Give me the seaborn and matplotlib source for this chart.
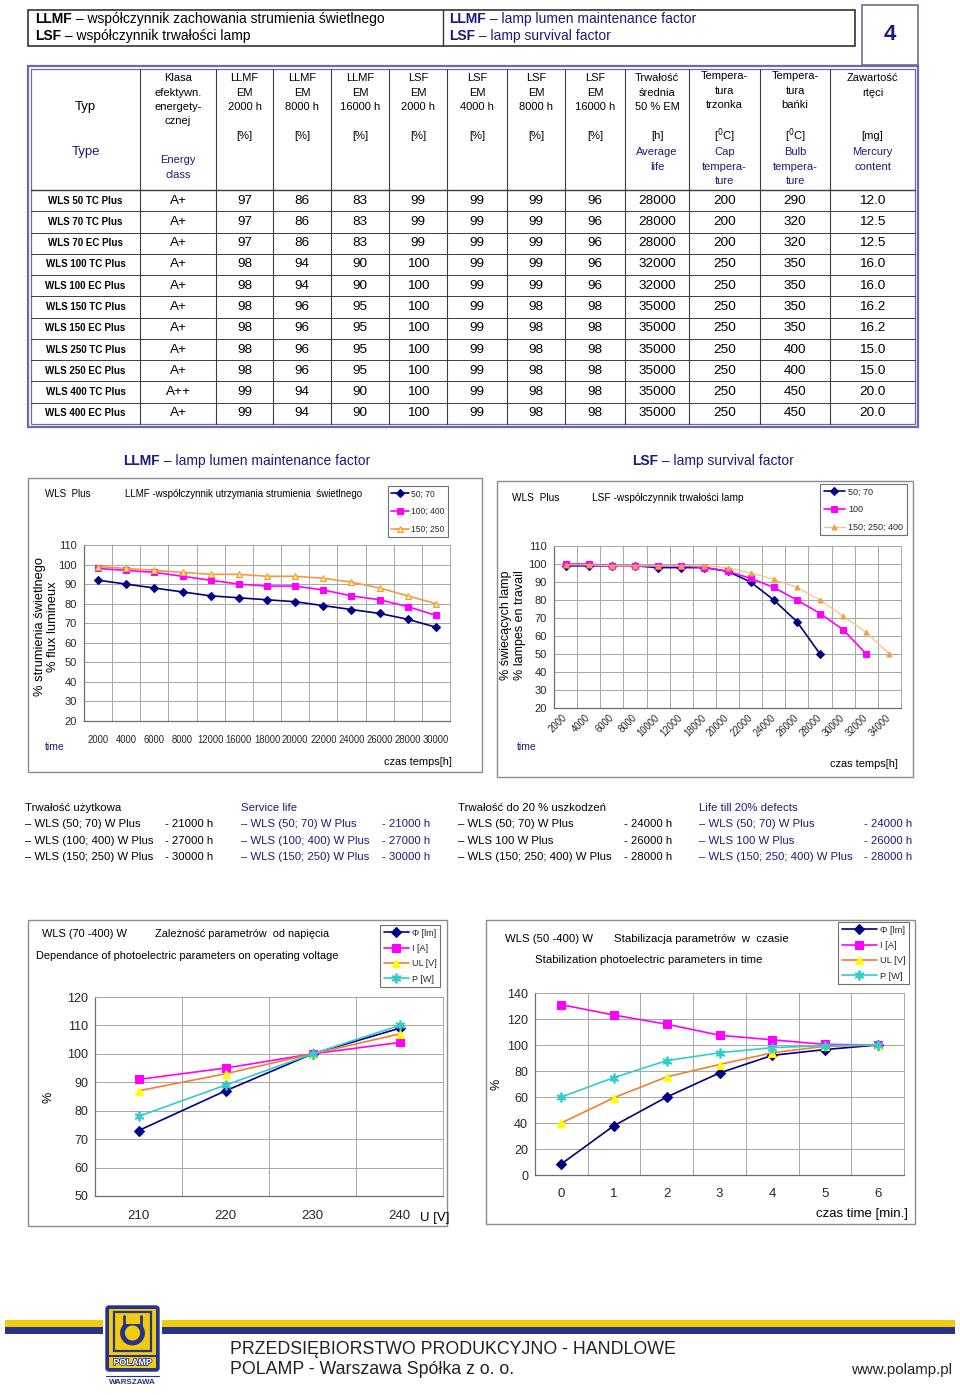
import matplotlib
matplotlib.use("Agg")
import matplotlib.pyplot as plt
from matplotlib import font_manager
from matplotlib.patches import Rectangle, FancyBboxPatch, Circle
import matplotlib.patheffects as pe
import numpy as np
import pandas as pd
import seaborn as sns

# ---------------- table data ----------------
lamp_types = ["WLS 50 TC Plus", "WLS 70 TC Plus", "WLS 70 EC Plus", "WLS 100 TC Plus",
              "WLS 100 EC Plus", "WLS 150 TC Plus", "WLS 150 EC Plus", "WLS 250 TC Plus",
              "WLS 250 EC Plus", "WLS 400 TC Plus", "WLS 400 EC Plus"]
energy_class = ["A+", "A+", "A+", "A+", "A+", "A+", "A+", "A+", "A+", "A++", "A+"]
llmf_2000 = [97, 97, 97, 98, 98, 98, 98, 98, 98, 99, 99]
llmf_8000 = [86, 86, 86, 94, 94, 96, 96, 96, 96, 94, 94]
llmf_16000 = [83, 83, 83, 90, 90, 95, 95, 95, 95, 90, 90]
lsf_2000 = [99, 99, 99, 100, 100, 100, 100, 100, 100, 100, 100]
lsf_4000 = [99, 99, 99, 99, 99, 99, 99, 99, 99, 99, 99]
lsf_8000 = [99, 99, 99, 99, 99, 98, 98, 98, 98, 98, 98]
lsf_16000 = [96, 96, 96, 96, 96, 98, 98, 98, 98, 98, 98]
avg_life = [28000, 28000, 28000, 32000, 32000, 35000, 35000, 35000, 35000, 35000, 35000]
cap_temp = [200, 200, 200, 250, 250, 250, 250, 250, 250, 250, 250]
bulb_temp = [290, 320, 320, 350, 350, 350, 350, 400, 400, 450, 450]
mercury = ["12.0", "12.5", "12.5", "16.0", "16.0", "16.2", "16.2", "15.0", "15.0", "20.0", "20.0"]

head_pl = [["Typ"], ["Klasa", "efektywn.", "energety-", "cznej"],
           ["LLMF", "EM", "2000 h"], ["LLMF", "EM", "8000 h"], ["LLMF", "EM", "16000 h"],
           ["LSF", "EM", "2000 h"], ["LSF", "EM", "4000 h"], ["LSF", "EM", "8000 h"],
           ["LSF", "EM", "16000 h"], ["Trwałość", "średnia", "50 % EM"],
           ["Tempera-", "tura", "trzonka"], ["Tempera-", "tura", "bańki"], ["Zawartość", "rtęci"]]
head_unit = ["", "", "[%]", "[%]", "[%]", "[%]", "[%]", "[%]", "[%]", "[h]",
             "[$^0$C]", "[$^0$C]", "[mg]"]
head_en = [["Type"], ["Energy", "class"], [], [], [], [], [], [], [],
           ["Average", "life"], ["Cap", "tempera-", "ture"], ["Bulb", "tempera-", "ture"],
           ["Mercury", "content"]]

# ---------------- chart 1: LLMF ----------------
llmf_hours = ["2000", "4000", "6000", "8000", "12000", "16000", "18000", "20000",
              "22000", "24000", "26000", "28000", "30000"]
llmf_50_70 = [92, 90, 88, 86, 84, 83, 82, 81, 79, 77, 75, 72, 68]
llmf_100_400 = [98, 97, 96, 94, 92, 90, 89, 89, 87, 84, 82, 78.5, 74]
llmf_150_250 = [99, 98, 97, 96, 95, 95, 94, 94, 93, 91, 88, 84, 80]

# ---------------- chart 2: LSF ----------------
lsf_hours = ["2000", "4000", "6000", "8000", "10000", "12000", "18000", "20000", "22000",
             "24000", "26000", "28000", "30000", "32000", "34000"]
lsf_50_70 = [99, 99, 99, 99, 98, 98, 98, 96, 90, 80, 68, 50]
lsf_100 = [100, 100, 99, 99, 99, 99, 98, 96, 92, 87, 80, 72.5, 63.5, 50]
lsf_150_400 = [99.5, 99.5, 99, 99, 99, 99, 99, 98, 95, 91.5, 87, 80, 71, 62, 50]

# ---------------- chart 3: voltage ----------------
voltage = ["210", "220", "230", "240"]
volt_flux = [73, 87, 100, 109]
volt_current = [91, 95, 100, 104]
volt_lamp_u = [87, 93, 100, 107]
volt_power = [78, 89, 100, 110]

# ---------------- chart 4: stabilisation ----------------
minutes = ["0", "1", "2", "3", "4", "5", "6"]
stab_flux = [8.5, 38, 60, 78.5, 92, 96.5, 100]
stab_current = [131, 123, 116, 107.5, 104, 100.5, 100]
stab_lamp_u = [40, 59.5, 75.5, 85, 94, 99, 100]
stab_power = [60, 75, 88, 94, 98, 99.5, 100]

# ---------------- life texts ----------------
service_models = ["WLS (50; 70) W Plus", "WLS (100; 400) W Plus", "WLS (150; 250) W Plus"]
service_hours = [21000, 27000, 30000]
defect_models = ["WLS (50; 70) W Plus", "WLS 100 W Plus", "WLS (150; 250; 400) W Plus"]
defect_hours = [24000, 26000, 28000]

# ---------------- style ----------------
sns.set_style("white")
plt.rcParams["font.family"] = ["Liberation Sans", "DejaVu Sans"]
names = {f.name for f in font_manager.fontManager.ttflist}
NARROW = "Liberation Sans Narrow" if "Liberation Sans Narrow" in names else "Liberation Sans"
NK = 1.0 if NARROW == "Liberation Sans Narrow" else 0.88

NAVY_TXT = "#1b1b78"
NAVY = "#000080"
MAGENTA = "#FF00FF"
ORANGE = "#F08030"
YELLOW = "#FFFF00"
CYAN = "#33CCCC"
GRID = "#a6a6a6"
AXIS = "#6e6e6e"
FRAME = "#8c8c8c"
TBORDER = "#6a6aa6"

W, H = 960, 1395
fig = plt.figure(figsize=(W / 100, H / 100), dpi=100)
bg = fig.add_axes([0, 0, 1, 1])
bg.set_xlim(0, W)
bg.set_ylim(H, 0)
bg.axis("off")


def put(x, y, s, size=8, color="black", ha="left", va="center", narrow=False, **kw):
    fam = NARROW if narrow else "Liberation Sans"
    sz = size * (NK if narrow else 1)
    return bg.text(x, y, s, fontsize=sz, color=color, ha=ha, va=va,
                   family=[fam, "DejaVu Sans"], **kw)


def put_rich(x, y, parts, size, color, narrow=False):
    r = fig.canvas.get_renderer()
    for s, weight in parts:
        t = put(x, y, s, size=size, color=color, weight=weight, narrow=narrow)
        bb = t.get_window_extent(renderer=r)
        x = bg.transData.inverted().transform((bb.x1, bb.y0))[0]


# ---------------- header ----------------
bg.add_patch(Rectangle((28, 10), 827, 36, fill=False, ec="#333333", lw=1.2))
bg.plot([443, 443], [10, 46], color="#333333", lw=1)
put_rich(35, 19, [("LLMF", "bold"), (" – współczynnik zachowania strumienia świetlnego", "normal")], 10, "black")
put_rich(35, 36, [("LSF", "bold"), (" – współczynnik trwałości lamp", "normal")], 10, "black")
put_rich(449, 19, [("LLMF", "bold"), (" – lamp lumen maintenance factor", "normal")], 10, NAVY_TXT)
put_rich(449, 36, [("LSF", "bold"), (" – lamp survival factor", "normal")], 10, NAVY_TXT)
bg.add_patch(Rectangle((862, 5), 56, 60, fill=False, ec="#6f6f8f", lw=1.2))
put(890, 35, "4", size=16, color=NAVY_TXT, ha="center", weight="bold")

# ---------------- table ----------------
bg.add_patch(Rectangle((28, 66), 890, 361, fill=False, ec=TBORDER, lw=1.6))
bg.add_patch(Rectangle((31, 69), 884, 355, fill=False, ec=TBORDER, lw=0.9))
col_edges = [31, 140, 216, 273, 331, 389, 447, 507, 565, 625, 689, 760, 830, 915]
for xe in col_edges[1:-1]:
    bg.plot([xe, xe], [69, 424], color="#3c3c3c", lw=0.8)
row_top = 190
row_h = (424 - 190) / len(lamp_types)
bg.plot([31, 915], [row_top, row_top], color="#3c3c3c", lw=1.0)
for i in range(1, len(lamp_types)):
    yy = row_top + i * row_h
    bg.plot([31, 915], [yy, yy], color="#3c3c3c", lw=0.7)

centers = [(a + b) / 2 for a, b in zip(col_edges[:-1], col_edges[1:])]
for c, (cx, pl, unit, en) in enumerate(zip(centers, head_pl, head_unit, head_en)):
    if c == 0:
        put(cx, 107, pl[0], size=9.5, ha="center")
        put(cx, 152, en[0], size=9.5, ha="center", color=NAVY_TXT)
        continue
    y0 = 76 if pl[0] == "Tempera-" else 78
    for k, s in enumerate(pl):
        put(cx, y0 + k * 14.5, s, size=8, ha="center")
    if unit:
        put(cx, 136, unit, size=8, ha="center")
    ye = 160 if c == 1 else 152
    for k, s in enumerate(en):
        put(cx, ye + k * 14.6, s, size=8, ha="center", color=NAVY_TXT)

table_cols = [lamp_types, energy_class, llmf_2000, llmf_8000, llmf_16000, lsf_2000,
              lsf_4000, lsf_8000, lsf_16000, avg_life, cap_temp, bulb_temp, mercury]
for r in range(len(lamp_types)):
    yc = row_top + (r + 0.5) * row_h
    for c, col in enumerate(table_cols):
        if c == 0:
            put(centers[0], yc, col[r], size=8, ha="center", weight="bold", narrow=True)
        else:
            put(centers[c], yc, str(col[r]), size=9.7, ha="center")

# ---------------- section captions ----------------
put_rich(123, 461, [("LLMF", "bold"), (" – lamp lumen maintenance factor", "normal")], 10, NAVY_TXT)
put_rich(632, 461, [("LSF", "bold"), (" – lamp survival factor", "normal")], 10, NAVY_TXT)


# ---------------- chart helpers ----------------
def chart_axes(x0, y0, x1, y1):
    return fig.add_axes([x0 / W, 1 - y1 / H, (x1 - x0) / W, (y1 - y0) / H])


def draw_series(ax, values, label, color, marker, ms, mfc=None, mec=None, lw=1.2, mew=0.8):
    df = pd.DataFrame({"pos": np.arange(len(values)), "val": values})
    sns.lineplot(data=df, x="pos", y="val", ax=ax, label=label, legend=False,
                 color=color, linewidth=lw, marker=marker, markersize=ms,
                 markerfacecolor=mfc or color, markeredgecolor=mec or color,
                 markeredgewidth=mew)


def style_axis(ax, labels, ylo, yhi, ystep, xsize, ysize, xpad, xrot=0, xnarrow=True):
    n = len(labels)
    ax.set_xlim(-0.5, n - 0.5)
    ax.set_ylim(ylo, yhi)
    ax.set_xticks(np.arange(n))
    ax.set_xticklabels(labels)
    ax.set_xticks(np.arange(n + 1) - 0.5, minor=True)
    ax.set_yticks(np.arange(ylo, yhi + 1, ystep))
    ax.grid(False)
    ax.grid(True, axis="x", which="minor", color=GRID, lw=0.7)
    ax.grid(True, axis="y", which="major", color=GRID, lw=0.7)
    ax.set_axisbelow(True)
    ax.tick_params(axis="x", which="major", length=0, pad=xpad, labelsize=xsize * (NK if xnarrow else 1))
    ax.tick_params(axis="x", which="minor", length=4, color=AXIS, width=0.8)
    ax.tick_params(axis="y", length=3, color=AXIS, width=0.8, pad=2, labelsize=ysize)
    for s in ("top", "right"):
        ax.spines[s].set_color(GRID)
        ax.spines[s].set_linewidth(0.7)
    for s in ("left", "bottom"):
        ax.spines[s].set_color(AXIS)
        ax.spines[s].set_linewidth(0.9)
    if xnarrow:
        for t in ax.get_xticklabels():
            t.set_family([NARROW, "DejaVu Sans"])
    if xrot:
        for t in ax.get_xticklabels():
            t.set_rotation(xrot)
            t.set_ha("right")
            t.set_rotation_mode("anchor")
            t.set_va("center")
    ax.set_xlabel("")
    ax.set_ylabel("")


def legend_at(ax, x, y, size, spacing, hl=2.6):
    leg = ax.legend(loc="upper left", bbox_to_anchor=(x / W, 1 - y / H),
                    bbox_transform=fig.transFigure, frameon=True, fancybox=False,
                    edgecolor="#707070", framealpha=1, borderaxespad=0, borderpad=0.4,
                    handlelength=hl, handletextpad=0.3, labelspacing=spacing,
                    prop={"family": [NARROW, "DejaVu Sans"], "size": size * NK})
    leg.get_frame().set_linewidth(0.8)


# ---------------- chart 1 ----------------
bg.add_patch(Rectangle((28, 478), 454, 294, fill=False, ec=FRAME, lw=1))
ax1 = chart_axes(84, 545, 450, 721)
draw_series(ax1, llmf_50_70, "50; 70", NAVY, "D", 4)
draw_series(ax1, llmf_100_400, "100; 400", MAGENTA, "s", 4.5)
draw_series(ax1, llmf_150_250, "150; 250", "#F39A3C", "^", 5, mfc="#FFF27A", mec="#F39A3C")
style_axis(ax1, llmf_hours, 20, 110, 10, 7.8, 8, 10)
legend_at(ax1, 388, 486, 7.0, 1.0, hl=2.0)
put(45, 494, "WLS  Plus", size=8, narrow=True)
put(125, 494, "LLMF -współczynnik utrzymania strumienia  świetlnego", size=8, narrow=True)
put(40, 627, "% strumienia świetlnego", size=9.3, ha="center", rotation=90)
put(53, 627, "% flux lumineux", size=9.3, ha="center", rotation=90)
put(45, 747, "time", size=8.5, color=NAVY_TXT, narrow=True)
put(452, 762, "czas temps[h]", size=9, ha="right", narrow=True)

# ---------------- chart 2 ----------------
bg.add_patch(Rectangle((497, 481), 416, 296, fill=False, ec=FRAME, lw=1))
ax2 = chart_axes(554, 546, 901, 708)
draw_series(ax2, lsf_50_70, "50; 70", NAVY, "D", 4.5)
draw_series(ax2, lsf_100, "100", MAGENTA, "s", 5)
draw_series(ax2, lsf_150_400, "150; 250; 400", "#F5C389", "^", 3.5, mfc="#F0A040", mec="#F0A040", lw=0.9)
style_axis(ax2, lsf_hours, 20, 110, 10, 7.8, 8, 6, xrot=45)
legend_at(ax2, 820, 484, 7.4, 0.95, hl=2.4)
put(512, 498, "WLS  Plus", size=8.3, narrow=True)
put(592, 498, "LSF -współczynnik trwałości lamp", size=8.3, narrow=True)
put(506, 625, "% świecących lamp", size=9, ha="center", rotation=90)
put(520, 625, "% lampes en travail", size=9, ha="center", rotation=90)
put(517, 747, "time", size=8.5, color=NAVY_TXT, narrow=True)
put(898, 764, "czas temps[h]", size=9, ha="right", narrow=True)

# ---------------- life texts ----------------
blocks = [(25, 213, "Trwałość użytkowa", service_models, service_hours, "black"),
          (241, 430, "Service life", service_models, service_hours, NAVY_TXT),
          (458, 672, "Trwałość do 20 % uszkodzeń", defect_models, defect_hours, "black"),
          (699, 912, "Life till 20% defects", defect_models, defect_hours, NAVY_TXT)]
for x0, x1, head, models, hours, colr in blocks:
    put(x0, 808, head, size=9.3, color=colr, narrow=True)
    for k, (m, h) in enumerate(zip(models, hours)):
        yy = 824 + k * 16.5
        put(x0, yy, "– " + m, size=9.3, color=colr, narrow=True)
        put(x1, yy, f"- {h} h", size=9.3, color=colr, ha="right", narrow=True)

# ---------------- chart 3 ----------------
bg.add_patch(Rectangle((28, 920), 419, 306, fill=False, ec=FRAME, lw=1))
ax3 = chart_axes(95, 997, 443, 1196)
draw_series(ax3, volt_flux, "Φ [lm]", NAVY, "D", 5)
draw_series(ax3, volt_current, "I [A]", MAGENTA, "s", 5.5)
draw_series(ax3, volt_lamp_u, "UL [V]", ORANGE, "^", 6, mfc=YELLOW, mec=YELLOW)
draw_series(ax3, volt_power, "P [W]", CYAN, (6, 2, 0), 7, mew=1.3)
style_axis(ax3, voltage, 50, 120, 10, 9.5, 9, 10, xnarrow=False)
legend_at(ax3, 380, 925, 7.4, 0.7, hl=2.8)
put(42, 934, "WLS (70 -400) W", size=9, narrow=True)
put(155, 934, "Zależność parametrów  od napięcia", size=9, narrow=True)
put(36, 956, "Dependance of photoelectric parameters on operating voltage", size=9, narrow=True)
put(48, 1097, "%", size=9, ha="center", rotation=90)
put(420, 1218, "U [V]", size=9.5)

# ---------------- chart 4 ----------------
bg.add_patch(Rectangle((486, 920), 429, 304, fill=False, ec=FRAME, lw=1))
ax4 = chart_axes(535, 993, 904, 1175)
draw_series(ax4, stab_flux, "Φ [lm]", NAVY, "D", 5)
draw_series(ax4, stab_current, "I [A]", MAGENTA, "s", 5.5)
draw_series(ax4, stab_lamp_u, "UL [V]", ORANGE, "^", 6, mfc=YELLOW, mec=YELLOW)
draw_series(ax4, stab_power, "P [W]", CYAN, (6, 2, 0), 7, mew=1.3)
style_axis(ax4, minutes, 0, 140, 20, 9.5, 9, 9.5, xnarrow=False)
legend_at(ax4, 838, 922, 7.6, 0.68, hl=3.8)
put(505, 939, "WLS (50 -400) W", size=9.3, narrow=True)
put(614, 939, "Stabilizacja parametrów  w  czasie", size=9.3, narrow=True)
put(535, 960, "Stabilization photoelectric parameters in time", size=9.3, narrow=True)
put(497, 1084, "%", size=9, ha="center", rotation=90)
put(908, 1214, "czas time [min.]", size=9.5, ha="right")

# ---------------- footer ----------------
bg.add_patch(Rectangle((5, 1320), 950, 7, color="#F2CC0C", lw=0))
bg.add_patch(Rectangle((5, 1327), 950, 7, color="#26338A", lw=0))
bg.add_patch(Rectangle((103, 1303), 59, 71, color="white", lw=0))
bg.add_patch(FancyBboxPatch((106, 1306), 53, 65, boxstyle="round,pad=0,rounding_size=3",
                            fc="#26338A", ec="#26338A"))
bg.add_patch(Rectangle((109, 1309), 47, 46, fc="#F2CC0C", lw=0))
bg.add_patch(Rectangle((114, 1312), 37, 39, fill=False, ec="#26338A", lw=1.6))
bg.add_patch(Circle((132.5, 1333), 10, fill=False, ec="#26338A", lw=3.5))
bg.add_patch(Rectangle((124, 1316), 17, 8, fc="#F2CC0C", lw=0))
bg.plot([124, 124], [1316, 1328], color="#26338A", lw=2)
bg.plot([141, 141], [1316, 1328], color="#26338A", lw=2)
bg.add_patch(Rectangle((109, 1357), 47, 11, fc="#F2CC0C", lw=0))
t = put(132.5, 1362.5, "POLAMP", size=6.5, color="white", ha="center", weight="bold")
t.set_path_effects([pe.withStroke(linewidth=1.2, foreground="#26338A")])
bg.plot([106, 159], [1376, 1376], color="#26338A", lw=0.8)
put(132.5, 1383, "WARSZAWA", size=6.5, color="#26338A", ha="center", narrow=True, weight="bold")
put(230, 1350, "PRZEDSIĘBIORSTWO PRODUKCYJNO - HANDLOWE", size=12.8, color="#222222")
put(230, 1370, "POLAMP - Warszawa Spółka z o. o.", size=12.8, color="#222222")
put(952, 1370, "www.polamp.pl", size=10.8, color="#222222", ha="right")

fig.savefig("out.png", dpi=100)
